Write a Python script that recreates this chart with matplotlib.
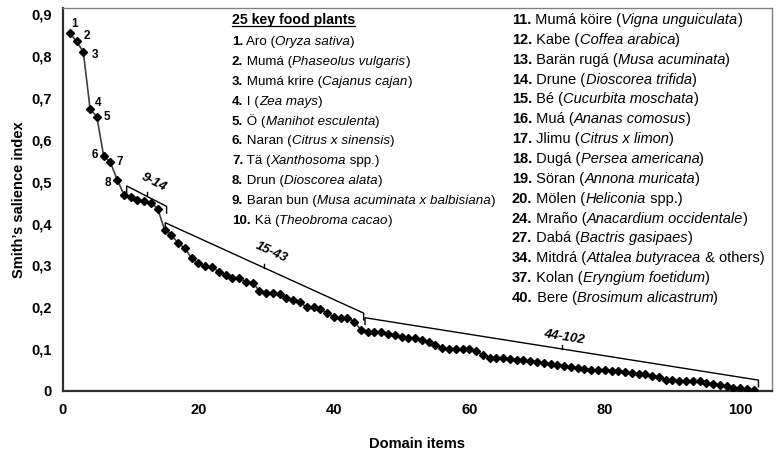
import matplotlib
matplotlib.use('Agg')
import matplotlib.pyplot as plt
import numpy as np

plt.rcParams['font.family'] = ['Liberation Sans', 'DejaVu Sans']

# Smith's salience index for the 102 domain items
items = np.arange(1, 103)
salience = [
    0.855, 0.835, 0.810, 0.674, 0.655, 0.562, 0.546, 0.505, 0.469, 0.463,
    0.457, 0.453, 0.450, 0.435, 0.385, 0.373, 0.353, 0.341, 0.317, 0.305,
    0.299, 0.296, 0.285, 0.278, 0.271, 0.270, 0.261, 0.258, 0.240, 0.234,
    0.234, 0.232, 0.222, 0.218, 0.212, 0.200, 0.200, 0.195, 0.186, 0.176,
    0.175, 0.174, 0.166, 0.146, 0.142, 0.141, 0.140, 0.136, 0.133, 0.130,
    0.127, 0.126, 0.122, 0.118, 0.110, 0.102, 0.101, 0.101, 0.100, 0.100,
    0.096, 0.086, 0.080, 0.080, 0.078, 0.076, 0.074, 0.073, 0.071, 0.069,
    0.066, 0.064, 0.062, 0.059, 0.057, 0.054, 0.053, 0.051, 0.050, 0.049,
    0.048, 0.048, 0.046, 0.042, 0.041, 0.040, 0.037, 0.033, 0.026, 0.026,
    0.025, 0.024, 0.024, 0.023, 0.020, 0.017, 0.014, 0.011, 0.007, 0.006,
    0.005, 0.002,
]

# numbered points and the item groups marked with brackets
point_labels = ['1', '2', '3', '4', '5', '6', '7', '8']
groups = ['9-14', '15-43', '44-102']

x_ticks = [0, 20, 40, 60, 80, 100]
y_ticks = [0, 0.1, 0.2, 0.3, 0.4, 0.5, 0.6, 0.7, 0.8, 0.9]
y_ticklabels = ['0', '0,1', '0,2', '0,3', '0,4', '0,5', '0,6', '0,7', '0,8', '0,9']

# (number, common name, scientific name, text after scientific name)
plants_left = [
    ('1.', 'Aro', 'Oryza sativa', ''),
    ('2.', 'Mumá', 'Phaseolus vulgaris', ''),
    ('3.', 'Mumá krire', 'Cajanus cajan', ''),
    ('4.', 'I', 'Zea mays', ''),
    ('5.', 'Ö', 'Manihot esculenta', ''),
    ('6.', 'Naran', 'Citrus x sinensis', ''),
    ('7.', 'Tä', 'Xanthosoma', ' spp.'),
    ('8.', 'Drun', 'Dioscorea alata', ''),
    ('9.', 'Baran bun', 'Musa acuminata x balbisiana', ''),
    ('10.', 'Kä', 'Theobroma cacao', ''),
]
plants_right = [
    ('11.', 'Mumá köire', 'Vigna unguiculata', ''),
    ('12.', 'Kabe', 'Coffea arabica', ''),
    ('13.', 'Barän rugá', 'Musa acuminata', ''),
    ('14.', 'Drune', 'Dioscorea trifida', ''),
    ('15.', 'Bé', 'Cucurbita moschata', ''),
    ('16.', 'Muá', 'Ananas comosus', ''),
    ('17.', 'Jlimu', 'Citrus x limon', ''),
    ('18.', 'Dugá', 'Persea americana', ''),
    ('19.', 'Söran', 'Annona muricata', ''),
    ('20.', 'Mölen', 'Heliconia', ' spp.'),
    ('24.', 'Mraño', 'Anacardium occidentale', ''),
    ('27.', 'Dabá', 'Bactris gasipaes', ''),
    ('34.', 'Mitdrá', 'Attalea butyracea', ' & others'),
    ('37.', 'Kolan', 'Eryngium foetidum', ''),
    ('40.', 'Bere', 'Brosimum alicastrum', ''),
]

W, H = 778, 453
fig = plt.figure(figsize=(W / 100, H / 100), dpi=100)
ax = fig.add_axes([63 / W, 1 - 391 / H, (772 - 63) / W, (391 - 8) / H])

ax.plot(items, salience, color='#404040', linewidth=1.2, marker='D',
        markersize=3.8, markerfacecolor='black', markeredgecolor='black', zorder=3)

ax.set_xlim(0, 104.7)
ax.set_ylim(0, 0.915)
ax.set_xticks(x_ticks)
ax.set_yticks(y_ticks)
ax.set_yticklabels(y_ticklabels)
ax.tick_params(length=0, labelsize=10.5, pad=8)
for lab in ax.get_xticklabels() + ax.get_yticklabels():
    lab.set_fontweight('bold')
ax.tick_params(axis='x', pad=9)

ax.set_xlabel('Domain items', fontsize=10.5, fontweight='bold', labelpad=14)
ax.set_ylabel('Smith\u2019s salience index', fontsize=10.5, fontweight='bold', labelpad=4)

for s in ['left', 'bottom']:
    ax.spines[s].set_color('#303030')
    ax.spines[s].set_linewidth(1.6)
for s in ['top', 'right']:
    ax.spines[s].set_color('#808080')
    ax.spines[s].set_linewidth(1.0)

# numbers next to the first eight points (offsets in pixels)
offsets = [(5, 9), (10, 5), (12, -3), (8, 6), (10, 0), (-9, 1), (9, 0), (-9, -3)]
for i, lab in enumerate(point_labels):
    ax.annotate(lab, (items[i], salience[i]), xytext=offsets[i],
                textcoords='offset pixels', ha='center', va='center',
                fontsize=8.5, fontweight='bold')

# brackets over the item groups: (x0, y0, x1, y1) in data units
bracket_geom = [(9.4, 0.490, 15.3, 0.441), (15.1, 0.402, 44.4, 0.186),
                (44.6, 0.175, 102.7, 0.026)]
label_gap = [15, 17, 12]
hook = 0.016
for (x0, y0, x1, y1), name, gap in zip(bracket_geom, groups, label_gap):
    ax.plot([x0, x0, x1, x1], [y0 - hook, y0, y1, y1 - hook],
            color='black', linewidth=1.0, zorder=2)
    xm, ym = (x0 + x1) / 2, (y0 + y1) / 2
    ax.plot([xm, xm], [ym, ym + 0.009], color='black', linewidth=1.0, zorder=2)
    p0 = ax.transData.transform((x0, y0))
    p1 = ax.transData.transform((x1, y1))
    ang = np.degrees(np.arctan2(p1[1] - p0[1], p1[0] - p0[0]))
    nx, ny = -np.sin(np.radians(ang)), np.cos(np.radians(ang))
    ax.annotate(name, (xm, ym), xytext=(nx * gap, ny * gap),
                textcoords='offset pixels', ha='center', va='center',
                rotation=ang, rotation_mode='anchor', fontsize=9.5,
                fontweight='bold', fontstyle='italic')


def plant_line(x_px, y_px, entry, fs):
    num, common, sci, extra = entry
    t = fig.text(x_px / W, 1 - y_px / H, num, fontsize=fs, fontweight='bold',
                 va='center', ha='left')
    t = ax.annotate(' ' + common + ' (', xy=(1, 0), xycoords=t,
                    va='bottom', fontsize=fs, annotation_clip=False)
    t = ax.annotate(sci, xy=(1, 0), xycoords=t, va='bottom', fontsize=fs,
                    fontstyle='italic', annotation_clip=False)
    ax.annotate(extra + ')', xy=(1, 0), xycoords=t, va='bottom', fontsize=fs,
                annotation_clip=False)


# key food plants list with bold numbers and italic scientific names
title = fig.text(232 / W, 1 - 20 / H, '25 key food plants', fontsize=10.2,
                 fontweight='bold', va='center', ha='left')
for k, entry in enumerate(plants_left):
    plant_line(232, 42 + 19.9 * k, entry, 9.6)
for k, entry in enumerate(plants_right):
    plant_line(512, 20 + 19.86 * k, entry, 10.5)

fig.canvas.draw()
bb = title.get_window_extent().transformed(fig.transFigure.inverted())
fig.add_artist(plt.Line2D([bb.x0, bb.x1], [bb.y0 + 0.002, bb.y0 + 0.002],
                          transform=fig.transFigure, color='black', linewidth=0.9))

fig.savefig('out.png', dpi=100, facecolor='white')
